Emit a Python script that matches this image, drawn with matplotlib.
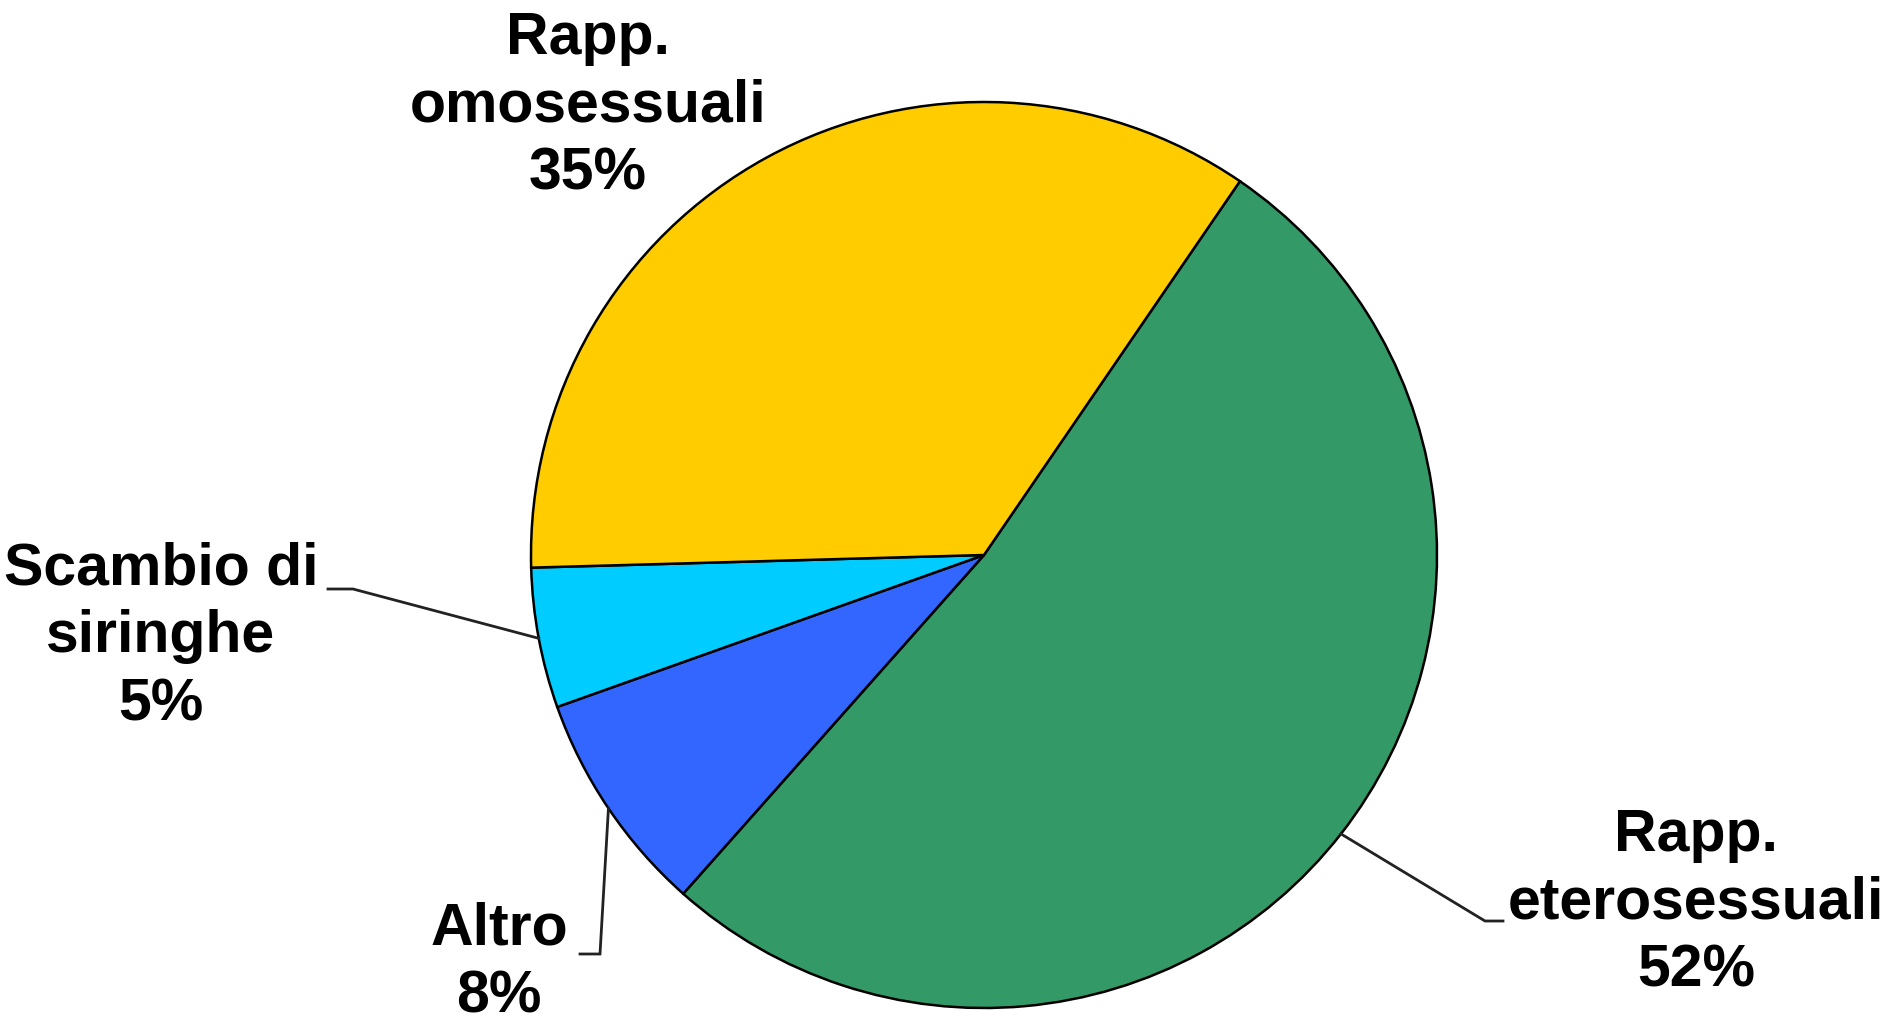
#!/usr/bin/env python3

"""
Pie chart: HIV transmission routes.
"""

import numpy as np
import matplotlib.pyplot as plt

categories = ["Rapp.\neterosessuali", "Altro", "Scambio di\nsiringhe", "Rapp.\nomosessuali"]
shares = [52, 8, 5, 35]
colors = ["#339966", "#3366FF", "#00CCFF", "#FFCC00"]

W, H = 1893, 1024

# layout in pixel coords (y measured from top)
center = (984, 555)
radius = 453
label_pos = [(1696, 903), (499, 963), (161, 637), (588, 106)]
# leader elbows: (elbow point, end point) or None
leaders = [((1485, 921), (1503, 921)),
           ((600, 954), (580, 954)),
           ((353, 589), (328, 589)),
           None]

plt.rcParams["font.family"] = ["Liberation Sans", "DejaVu Sans"]

fig = plt.figure(figsize=(W / 100, H / 100), dpi=100)
ax = fig.add_axes([0, 0, 1, 1])
ax.set_xlim(0, W)
ax.set_ylim(0, H)
ax.set_aspect("equal")
ax.axis("off")


def fy(y):
    return H - y


wedges, _ = ax.pie(shares, colors=colors, startangle=55.6, counterclock=False,
                   center=(center[0], fy(center[1])), radius=radius,
                   wedgeprops=dict(edgecolor="black", linewidth=1.8))
ax.set_xlim(0, W)
ax.set_ylim(0, H)

for w, cat, val, pos, lead in zip(wedges, categories, shares, label_pos, leaders):
    ax.text(pos[0], fy(pos[1]), f"{cat}\n{val}%", ha="center", va="center",
            fontsize=42.5, fontweight="bold", linespacing=1.3)
    if lead is None:
        continue
    mid = np.deg2rad((w.theta1 + w.theta2) / 2)
    ex = center[0] + radius * np.cos(mid)
    ey = fy(center[1]) + radius * np.sin(mid)
    (x1, y1), (x2, y2) = lead
    ax.plot([ex, x1, x2], [ey, fy(y1), fy(y2)], color="#222222", lw=2.0,
            solid_joinstyle="miter")

fig.savefig("out.png", dpi=100)
plt.close(fig)
